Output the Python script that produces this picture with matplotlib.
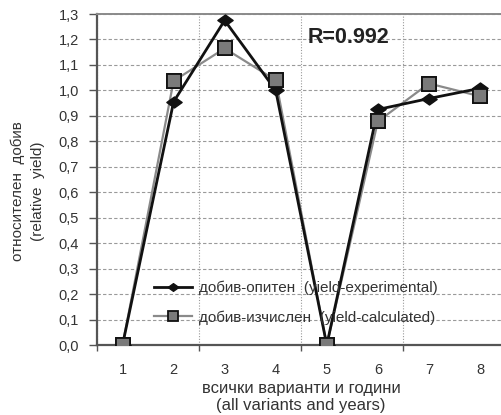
import matplotlib
matplotlib.use("Agg")
import matplotlib.pyplot as plt
from matplotlib.ticker import MultipleLocator, FixedLocator
from matplotlib.path import Path

plt.rcParams['font.family'] = ['Liberation Sans', 'DejaVu Sans']

# variants / years
categories = [1, 2, 3, 4, 5, 6, 7, 8]
yield_experimental = [0.0, 0.955, 1.275, 1.0, 0.0, 0.925, 0.968, 1.008]
yield_calculated = [0.0, 1.037, 1.165, 1.04, 0.0, 0.878, 1.027, 0.977]
y_ticks = [0.0, 0.1, 0.2, 0.3, 0.4, 0.5, 0.6, 0.7, 0.8, 0.9, 1.0, 1.1, 1.2, 1.3]
y_tick_labels = ["0,0", "0,1", "0,2", "0,3", "0,4", "0,5", "0,6",
                 "0,7", "0,8", "0,9", "1,0", "1,1", "1,2", "1,3"]
label_exp = "добив-опитен  (yield-experimental)"
label_calc = "добив-изчислен  (yield-calculated)"
r_text = "R=0.992"

# a slightly flattened diamond marker
wide_diamond = Path([(-1.25, 0), (0, 0.9), (1.25, 0), (0, -0.9), (-1.25, 0)],
                    [Path.MOVETO, Path.LINETO, Path.LINETO, Path.LINETO,
                     Path.CLOSEPOLY])

fig = plt.figure(figsize=(5.02, 4.15), dpi=100)
ax = fig.add_axes([97 / 502, 1 - 345 / 415, 408.5 / 502, 331 / 415])

ax.plot(categories, yield_calculated, color='#8a8a8a', lw=1.6,
        marker='s', markersize=10, markerfacecolor='#7a7a7a',
        markeredgecolor='#111111', markeredgewidth=1.3,
        label=label_calc, zorder=3)
ax.plot(categories, yield_experimental, color='#111111', lw=2.0,
        marker=wide_diamond, markersize=11, markerfacecolor='#111111',
        markeredgecolor='#111111', label=label_exp, zorder=4)
# keep the calculated squares visible on top where they overlap
ax.plot(categories, yield_calculated, ls='none',
        marker='s', markersize=10, markerfacecolor='#7a7a7a',
        markeredgecolor='#111111', markeredgewidth=1.3, zorder=5)

ax.set_xlim(0.5, 8.5)
ax.set_ylim(0, 1.3)

ax.yaxis.set_major_locator(FixedLocator(y_ticks))
ax.set_yticklabels(y_tick_labels)
ax.tick_params(axis='y', direction='out', length=6, width=1.0,
               color='#555555', labelsize=10.5, pad=7, labelcolor='#333333')

ax.xaxis.set_major_locator(MultipleLocator(2, offset=0.5))
ax.xaxis.set_minor_locator(FixedLocator(categories))
ax.set_xticklabels([], minor=False)
ax.set_xticklabels([str(c) for c in categories], minor=True)
ax.tick_params(axis='x', which='major', direction='out', length=4,
               width=1.0, color='#555555')
ax.tick_params(axis='x', which='minor', length=0, labelsize=10.5,
               pad=13, labelcolor='#333333')

ax.grid(axis='y', which='major', color='#9a9a9a', ls=(0, (3, 2)), lw=0.8)
ax.grid(axis='x', which='major', color='#9a9a9a', ls=(0, (1, 1.5)), lw=0.8)
ax.set_axisbelow(True)

for side in ('left', 'bottom'):
    ax.spines[side].set_color('#555555')
    ax.spines[side].set_linewidth(1.6)
ax.spines['top'].set_color('#8a8a8a')
ax.spines['top'].set_linewidth(1.4)
ax.spines['right'].set_visible(False)

ax.set_xlabel("всички варианти и години\n(all variants and years)",
              fontsize=12, color='#333333', labelpad=3, linespacing=1.15)
ax.set_ylabel("относителен  добив\n(relative  yield)",
              fontsize=11, color='#333333', linespacing=1.55)
ax.yaxis.set_label_coords(-0.128, 0.465)

ax.text(0.515, 0.93, r_text, transform=ax.transAxes, fontsize=15.5,
        fontweight='bold', color='#222222', ha='left', va='center')

handles, labels = ax.get_legend_handles_labels()
order = [1, 0]
ax.legend([handles[i] for i in order], [labels[i] for i in order],
          loc='lower left', bbox_to_anchor=(0.105, 0.02), frameon=False,
          fontsize=11, handlelength=2.5, handletextpad=0.45,
          labelspacing=1.0, labelcolor='#333333', markerscale=0.7)

fig.savefig("out.png", dpi=100)
